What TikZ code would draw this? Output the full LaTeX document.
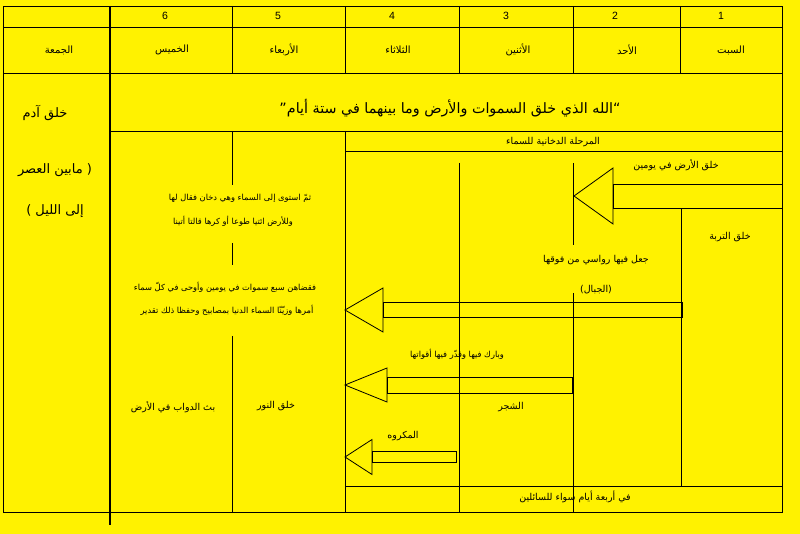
\documentclass[tikz,border=0pt]{standalone}
\usepackage{fontspec}
\setmainfont{Liberation Sans}
\newfontfamily\arabicfont[Script=Arabic]{DejaVu Sans}
\TeXXeTstate=1
\usetikzlibrary{positioning}
\tikzset{
  artxt/.style={font=\arabicfont\fontsize{9.5}{11}\selectfont, inner sep=0pt,
    execute at begin node=\beginR, execute at end node=\endR},
  arsmall/.style={artxt, font=\arabicfont\fontsize{8.3}{10}\selectfont},
  arday/.style={artxt, font=\arabicfont\fontsize{10}{12}\selectfont},
  arleft/.style={artxt, font=\arabicfont\fontsize{13}{15}\selectfont},
  artitle/.style={artxt, font=\arabicfont\fontsize{14.3}{17}\selectfont},
  daynum/.style={font=\fontsize{10.5}{12}\selectfont, inner sep=0pt}
}

\begin{document}
\begin{tikzpicture}[x=1pt, y=-1pt, line width=0.8pt]
\fill[yellow] (0,0) rectangle (800,534);
\useasboundingbox (0,0) rectangle (800,534);

\draw (3,6) rectangle (782,512);
\draw (3,27) -- (782,27) (3,73) -- (782,73);
\draw[line width=1.3pt] (110,6) -- (110,525);
\foreach \x in {232,345,459,573,680} \draw (\x,6) -- (\x,73);
\draw (110,131) -- (782,131) (345,151) -- (782,151) (345,486) -- (782,486);
\draw (232,131) -- (232,185) (232,243) -- (232,265) (232,336) -- (232,512);
\draw (345,131) -- (345,512);
\draw (459,163) -- (459,512);
\draw (573,163) -- (573,245) (573,293) -- (573,512);
\draw (681,209) -- (681,486);

\foreach \t/\y/\b/\e/\h/\H in {574/196/613/782/12/28, 345/310/383/682/7.5/22,
    345/385/387/572/8/17, 345/457/372/456/5.5/17.5} {
  \draw (\t,\y) -- (\b,\y-\H) -- (\b,\y+\H) -- cycle;
  \draw (\b,\y-\h) rectangle (\e,\y+\h);
}

\foreach \x/\n in {165/6, 278/5, 392/4, 506/3, 615/2, 721/1}
  \node[daynum] (n\n) at (\x,16) {\n};

\node[arday] (fri) at (59,50) {الجمعة};
\node[arday] (thu) at (172,50) {الخميس};
\node[arday] (wed) at (284,50) {الأربعاء};
\node[arday] (tue) at (398,50) {الثلاثاء};
\node[arday] (mon) at (518,50) {الأثنين};
\node[arday] (sun) at (627,50) {الأحد};
\node[arday] (sat) at (731,50) {السبت};

\node[arleft] (adam) at (45,113) {خلق آدم};
\node[arleft] (asr) at (55,170) {( مابين العصر};
\node[arleft, below=27pt of asr, on grid] (layl) {إلى الليل )};

\node[artitle] (ttl) at (450,108) {“الله الذي خلق السموات والأرض وما بينهما في ستة أيام”};
\node[artxt] (smoke) at (553,142) {المرحلة الدخانية للسماء};

\node[artxt] (ard) at (676,165) {خلق الأرض في يومين};
\node[artxt] (turba) at (730,237) {خلق التربة};
\node[artxt] (jaal) at (596,260) {جعل فيها رواسي من فوقها};
\node[artxt, below=20pt of jaal, on grid] (jibal) {(الجبال)};

\node[arsmall] (q1) at (240,198) {ثمّ استوى إلى السماء وهي دخان فقال لها};
\node[arsmall] (q2) at (233,221) {وللأرض ائتيا طوعا أو كرها قالتا أتينا};
\node[arsmall] (q3) at (225,287) {فقضاهن سبع سموات في يومين وأوحى في كلّ سماء};
\node[arsmall] (q4) at (227,310) {أمرها وزيّنّا السماء الدنيا بمصابيح وحفظا ذلك تقدير};

\node[arsmall] (barak) at (457,354) {وبارك فيها وقدّر فيها أقواتها};
\node[artxt] (dawab) at (173,407) {بث الدواب في الأرض};
\node[artxt] (nur) at (276,406) {خلق النور};
\node[artxt] (shajar) at (511,407) {الشجر};
\node[artxt] (makruh) at (403,436) {المكروه};
\node[artxt] (arbaa) at (575,497) {في أربعة أيام سواء للسائلين};
\end{tikzpicture}
\end{document}
